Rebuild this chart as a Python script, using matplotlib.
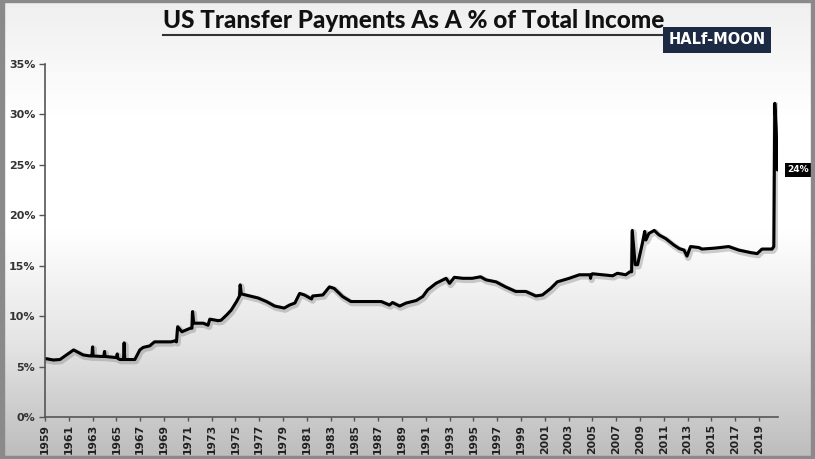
import numpy as np
import matplotlib.pyplot as plt
import matplotlib.patheffects as pe
from matplotlib.colors import LinearSegmentedColormap

# Transfer payments as % of total income
years = [1959.0, 1959.7, 1960.26, 1960.8, 1961.4, 1961.8, 1962.2, 1962.8, 1962.95, 1963.0, 1963.05,
         1963.75, 1963.95, 1964.0, 1964.05, 1964.9, 1965.02, 1965.07, 1965.12, 1965.3, 1965.6, 1965.65,
         1965.7, 1965.8, 1966.55, 1966.97, 1967.25, 1967.8, 1968.2, 1968.9, 1969.6, 1969.9, 1970.05,
         1970.15, 1970.5, 1971.2, 1971.35, 1971.4, 1971.5, 1971.6, 1972.3, 1972.7, 1972.85, 1973.55,
         1973.8, 1974.25, 1974.65, 1975.1, 1975.35, 1975.4, 1975.5, 1976.2, 1976.9, 1977.6, 1978.3,
         1979.1, 1979.55, 1980.0, 1980.4, 1980.8, 1981.4, 1981.5, 1982.35, 1982.9, 1983.3, 1984.0,
         1984.7, 1985.55, 1986.4, 1987.25, 1987.95, 1988.2, 1988.8, 1989.35, 1990.2, 1990.75, 1991.15,
         1991.85, 1992.7, 1993.0, 1993.4, 1994.1, 1994.9, 1995.6, 1996.05, 1996.9, 1997.7, 1998.55,
         1999.4, 2000.25, 2000.8, 2001.5, 2002.05, 2003.05, 2003.9, 2004.8, 2004.85, 2004.9, 2005.0,
         2005.85, 2006.7, 2007.1, 2007.8, 2008.15, 2008.3, 2008.35, 2008.6, 2008.8, 2009.2, 2009.4,
         2009.5, 2009.75, 2010.2, 2010.6, 2011.15, 2011.85, 2012.3, 2012.7, 2012.95, 2013.25, 2013.95,
         2014.2, 2015.35, 2016.45, 2017.3, 2018.3, 2018.85, 2019.25, 2020.1, 2020.25, 2020.33, 2020.45,
         2020.55]
pct = [5.8, 5.65, 5.7, 6.15, 6.65, 6.4, 6.15, 6.05, 6.05, 6.95, 6.05,
       6.0, 6.0, 6.5, 6.0, 5.9, 5.9, 6.25, 5.8, 5.7, 5.7, 7.35,
       5.7, 5.7, 5.7, 6.65, 6.9, 7.05, 7.45, 7.45, 7.45, 7.55, 7.45,
       8.95, 8.45, 8.8, 8.8, 10.45, 9.3, 9.3, 9.3, 9.1, 9.7, 9.55,
       9.6, 10.1, 10.6, 11.45, 12.0, 13.1, 12.2, 12.0, 11.8, 11.45, 11.0,
       10.8, 11.1, 11.3, 12.25, 12.1, 11.7, 12.0, 12.1, 12.9, 12.75, 11.95,
       11.45, 11.45, 11.45, 11.45, 11.1, 11.35, 11.0, 11.3, 11.55, 11.95, 12.6,
       13.25, 13.75, 13.25, 13.85, 13.75, 13.75, 13.9, 13.6, 13.4, 12.9, 12.45,
       12.45, 12.0, 12.1, 12.75, 13.4, 13.75, 14.1, 14.1, 13.75, 14.1, 14.2,
       14.1, 14.0, 14.25, 14.1, 14.4, 14.4, 18.5, 15.1, 15.1, 17.2, 18.4,
       17.55, 18.2, 18.5, 18.05, 17.7, 17.05, 16.7, 16.55, 15.95, 16.9, 16.8,
       16.65, 16.75, 16.9, 16.55, 16.3, 16.2, 16.65, 16.65, 16.9, 31.1, 28.5,
       24.5]

tick_years = list(range(1959, 2020, 2))
y_ticks = [0, 5, 10, 15, 20, 25, 30, 35]

fig = plt.figure(figsize=(8.15, 4.59), dpi=100)

# background gradient over the whole figure
bg = fig.add_axes([0, 0, 1, 1], zorder=-10)
grad = LinearSegmentedColormap.from_list("bg", ["#bcbcbc", "#e4e4e4", "#ffffff", "#ffffff", "#efefef"])
bg.imshow(np.linspace(0, 1, 256).reshape(-1, 1), aspect="auto", cmap=grad,
          extent=[0, 1, 0, 1], origin="lower")
bg.set_xlim(0, 1)
bg.set_ylim(0, 1)
bg.axis("off")
# grey frame
for r in [plt.Rectangle((0, 0), 0.005, 1), plt.Rectangle((0.995, 0), 0.005, 1),
          plt.Rectangle((0, 0), 1, 0.007), plt.Rectangle((0, 0.995), 1, 0.005)]:
    r.set_color("#8a8a8a")
    r.set_transform(fig.transFigure)
    fig.patches.append(r)

ax = fig.add_axes([45/815, 1 - 417/459, (778 - 45)/815, (417 - 64)/459])
ax.patch.set_alpha(0)
ax.plot(years, pct, color="black", lw=2.2, solid_joinstyle="round", solid_capstyle="round",
        path_effects=[pe.SimpleLineShadow(offset=(0.8, -1.2), shadow_color="#777777", alpha=0.35, linewidth=4.5),
                      pe.Normal()])

ax.set_xlim(1959, 2020.6)
ax.set_ylim(0, 35)
ax.set_yticks(y_ticks)
ax.set_yticklabels([f"{v}%" for v in y_ticks], fontsize=8, fontweight="bold", color="#333333")
ax.set_xticks(tick_years)
ax.set_xticklabels([str(y) for y in tick_years], rotation=90, fontsize=7.8, fontweight="bold", color="#222222")
for s in ["top", "right"]:
    ax.spines[s].set_visible(False)
for s in ["left", "bottom"]:
    ax.spines[s].set_color("#555555")
    ax.spines[s].set_linewidth(1.2)
ax.tick_params(axis="y", color="#555555", length=4, width=1, pad=3)
ax.tick_params(axis="x", color="#555555", length=3, width=1, pad=2)

# end label
ax.annotate(f"{round(pct[-1] - 0.5)}%", xy=(years[-1], pct[-1]), xytext=(7, 0), textcoords="offset points",
            ha="left", va="center", fontsize=6.5, fontweight="bold", color="white",
            bbox=dict(boxstyle="square,pad=0.25", fc="black", ec="none"))

# title with underline
fig.text(414/815, 1 - 21/459, "US Transfer Payments As A % of Total Income", ha="center", va="center",
         fontsize=17.5, fontweight="black", color="#111111", family="Lato")
fig.lines.append(plt.Line2D([163/815, 665/815], [1 - 35/459, 1 - 35/459], transform=fig.transFigure,
                            color="#333333", lw=1.5))

# logo
fig.text(717/815, 1 - 40/459, "HALf-MOON", ha="center", va="center", fontsize=10.5, fontweight="bold",
         color="white", family="DejaVu Sans",
         bbox=dict(boxstyle="square,pad=0.35", fc="#1c2a44", ec="none"))

fig.savefig("out.png", dpi=100)
